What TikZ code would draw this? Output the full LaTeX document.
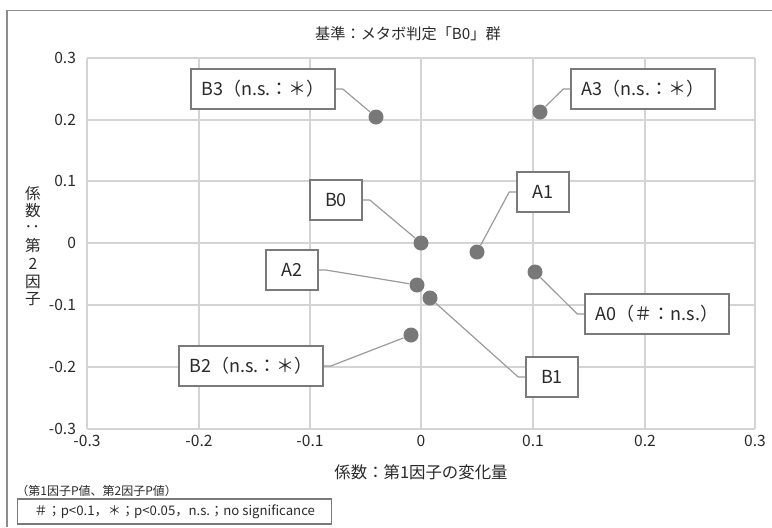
\documentclass[tikz,border=0pt]{standalone}
\usepackage{fontspec}
\setmainfont{Noto Sans CJK JP}
\usetikzlibrary{positioning}
\definecolor{gridgray}{HTML}{D4D4D4}
\definecolor{boxgray}{HTML}{7A7A7A}
\definecolor{dotgray}{HTML}{787878}
\definecolor{linegray}{HTML}{9A9A9A}
\definecolor{framegray}{HTML}{8C8C8C}
\definecolor{textgray}{HTML}{2A2A2A}

\begin{document}
\begin{tikzpicture}[x=0.5pt,y=-0.5pt,every node/.style={text=textgray}]
		\tikzstyle{BoxStyle}=[draw=boxgray,line width=0.8pt,fill=white,minimum height=20pt,font=\fontsize{9}{10}\selectfont]
		\tikzstyle{ShortBox}=[BoxStyle,minimum width=26pt]
		\tikzstyle{LongBox}=[BoxStyle,minimum width=72pt]
		\tikzstyle{DotStyle}=[circle,fill=dotgray,inner sep=0pt,minimum size=7.5pt]
		\tikzstyle{EdgeStyle}=[draw=linegray,line width=0.6pt]
		\tikzstyle{TickStyle}=[font=\fontsize{7.8}{9}\selectfont]
		\useasboundingbox (0,0) rectangle (772,527);
		% outer frame (cut off at right and bottom)
		\draw[framegray,line width=0.8pt] (7,527) -- (7,10.5) -- (772,10.5);
		% grid
		\foreach \gx in {87,199,310,421,533,645,755}
			\draw[gridgray,line width=0.8pt] (\gx,58) -- (\gx,429);
		\foreach \gy in {58,120,181,243,305,367,429}
			\draw[gridgray,line width=0.8pt] (87,\gy) -- (755,\gy);
		% tick labels
		\foreach \gy/\lab in {58/0.3,120/0.2,181/0.1,243/0,305/-0.1,367/-0.2,429/-0.3}
			\node[TickStyle,anchor=east] (ylab\gy) at (83,\gy) {\lab};
		\foreach \gx/\lab in {87/-0.3,199/-0.2,310/-0.1,421/0,533/0.1,645/0.2,755/0.3}
			\node[TickStyle] (xlab\gx) at (\gx,441) {\lab};
		% titles
		\node[font=\fontsize{7.6}{9}\selectfont] (title) at (408,34) {基準：メタボ判定「B0」群};
		\node[font=\fontsize{8.2}{9}\selectfont] (xtitle) at (421,472) {係数：第1因子の変化量};
		\node[font=\fontsize{7.8}{8.8}\selectfont,align=center,inner sep=0pt] (ytitle) at (33,246)
			{係\\数\\\rotatebox{90}{：}\\第\\2\\因\\子};
		% data points
		\node[DotStyle] (B3) at (376,117) {};
		\node[DotStyle] (A3) at (540,112) {};
		\node[DotStyle] (B0) at (421,243) {};
		\node[DotStyle] (A1) at (477,252) {};
		\node[DotStyle] (A0) at (535,272) {};
		\node[DotStyle] (A2) at (417,285) {};
		\node[DotStyle] (B1) at (430,298) {};
		\node[DotStyle] (B2) at (411,335) {};
		% label boxes
		\node[LongBox] (boxB3) at (263,89) {B3（n.s.：＊）};
		\node[LongBox] (boxA3) at (643,89) {A3（n.s.：＊）};
		\node[ShortBox] (boxB0) at (336,200) {B0};
		\node[ShortBox] (boxA1) at (543,192) {A1};
		\node[ShortBox] (boxA2) at (292,270) {A2};
		\node[LongBox] (boxA0) at (657,314) {A0（＃：n.s.）};
		\node[ShortBox] (boxB1) at (552,377) {B1};
		\node[LongBox] (boxB2) at (251,366) {B2（n.s.：＊）};
		% connectors
		\draw[EdgeStyle] (boxB3.east) -- ++(7,0) -- (B3);
		\draw[EdgeStyle] (boxA3.west) -- ++(-7,0) -- (A3);
		\draw[EdgeStyle] (boxB0.east) -- ++(7,0) -- (B0);
		\draw[EdgeStyle] (boxA1.west) -- ++(-7,0) -- (A1);
		\draw[EdgeStyle] (boxA2.east) -- ++(7,0) -- (A2);
		\draw[EdgeStyle] (boxA0.west) -- ++(-7,0) -- (A0);
		\draw[EdgeStyle] (boxB1.west) -- ++(-7,0) -- (B1);
		\draw[EdgeStyle] (boxB2.east) -- ++(7,0) -- (B2);
		% footnote and legend
		\node[font=\fontsize{6}{7}\selectfont,anchor=west,inner sep=0pt] (pnote) at (16,491) {（第1因子P値、第2因子P値）};
		\node[draw=boxgray,line width=0.7pt,anchor=west,minimum width=157pt,minimum height=12.5pt,inner sep=1pt,font=\fontsize{6.6}{7}\selectfont] (legend) at (17,511.5)
			{＃；p<0.1，＊；p<0.05，n.s.；no significance};
	\end{tikzpicture}
\end{document}
